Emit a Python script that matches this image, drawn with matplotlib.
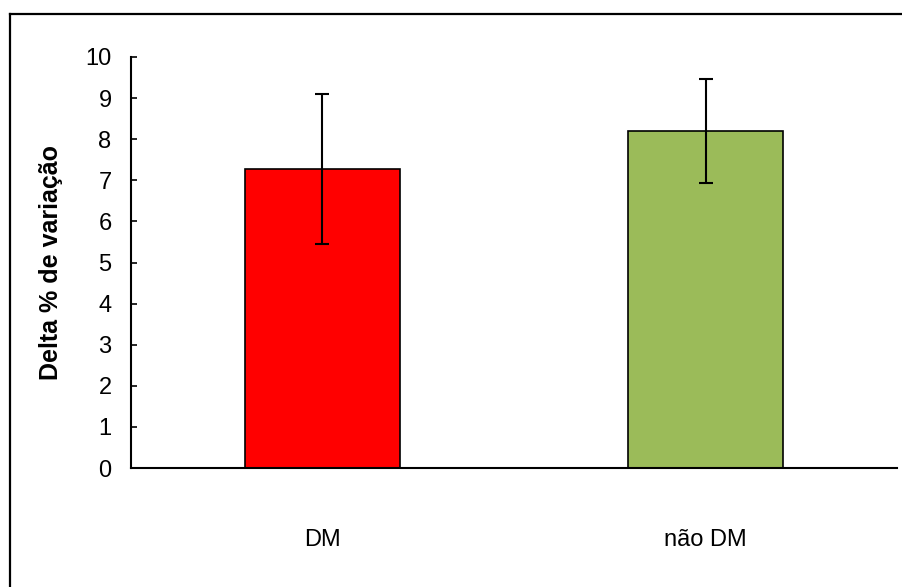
import matplotlib.pyplot as plt
from matplotlib.lines import Line2D

# dados do grafico
categorias = ['DM', 'não DM']
valores = [7.27, 8.2]
erros = [1.82, 1.27]
cores = ['#ff0000', '#9bbb59']
ticks_y = list(range(0, 11))

plt.rcParams['font.family'] = ['Liberation Sans', 'DejaVu Sans']

fig = plt.figure(figsize=(9.02, 5.87), dpi=100)
ax = fig.add_axes([0.1452, 0.2027, 0.8493, 0.7002])

x = range(len(categorias))
ax.bar(x, valores, width=0.405, color=cores, edgecolor='black', linewidth=1.2,
       yerr=erros, capsize=5, error_kw=dict(elinewidth=1.5, capthick=1.5, ecolor='black'))

ax.set_xlim(-0.5, 1.5)
ax.set_ylim(0, 10)
ax.set_yticks(ticks_y)
ax.set_xticks(list(x))
ax.set_xticklabels(categorias)
ax.tick_params(axis='y', direction='in', length=4.5, width=1.2, labelsize=17, pad=14)
ax.tick_params(axis='x', length=0, labelsize=17, pad=44)
ax.spines['top'].set_visible(False)
ax.spines['right'].set_visible(False)
ax.spines['left'].set_linewidth(1.5)
ax.spines['bottom'].set_linewidth(1.5)
ax.set_ylabel('Delta % de variação', fontsize=18, fontweight='bold', labelpad=16)

# moldura externa (cortada na direita e embaixo)
fig.add_artist(Line2D([10/902, 1], [1 - 14/587, 1 - 14/587], color='black', lw=1.6,
                      transform=fig.transFigure))
fig.add_artist(Line2D([10/902, 10/902], [0, 1 - 14/587], color='black', lw=1.6,
                      transform=fig.transFigure))

fig.savefig('out.png', dpi=100)
